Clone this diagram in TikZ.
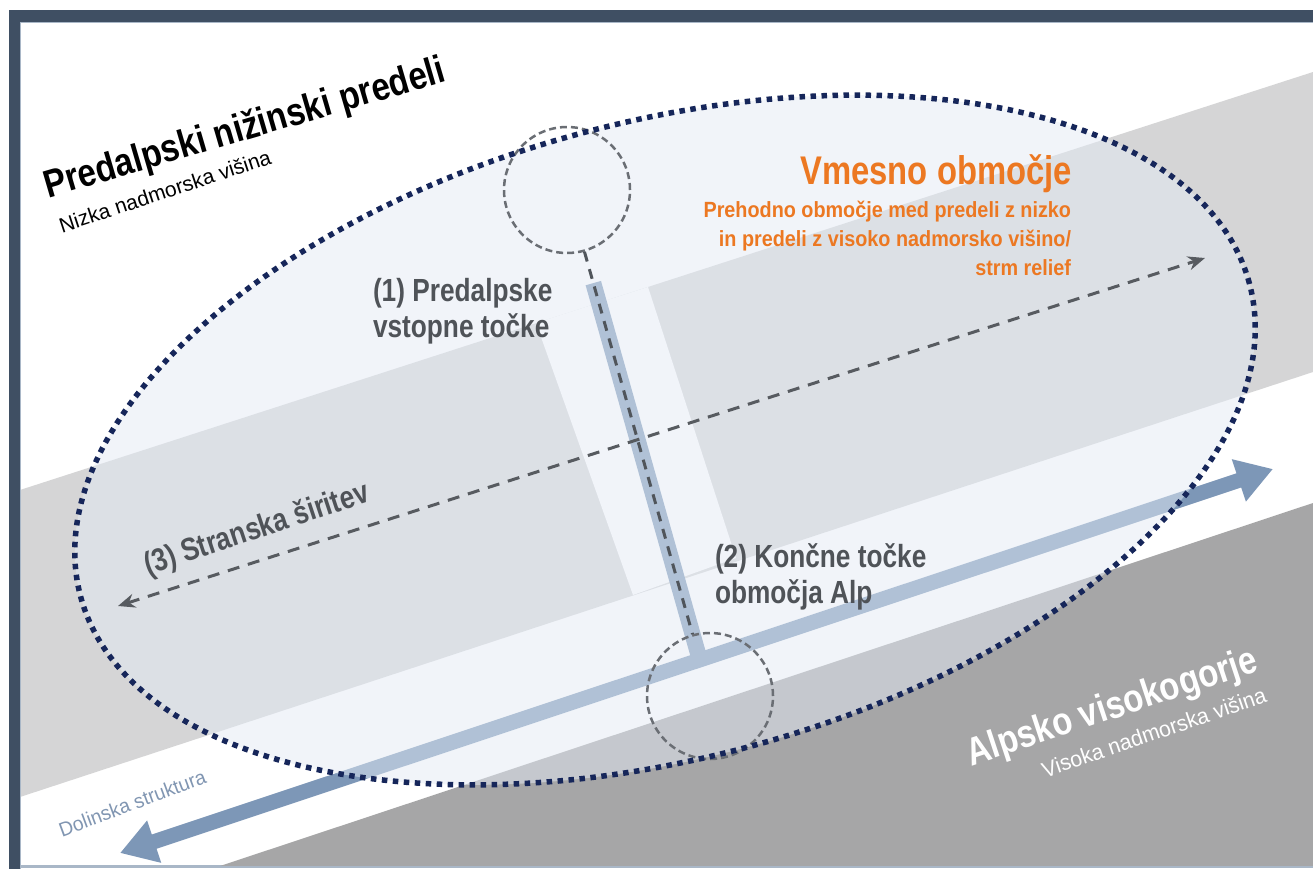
\documentclass[tikz,border=0pt]{standalone}
\usepackage{fontspec}
\setmainfont{Liberation Sans}
\newfontfamily\nar[FakeStretch=0.82]{Liberation Sans}
\newfontfamily\naro[FakeStretch=0.9]{Liberation Sans}
\newfontfamily\nart[FakeStretch=0.85]{Liberation Sans}
\newfontfamily\nara[FakeStretch=0.845]{Liberation Sans}
\newfontfamily\nars[FakeStretch=0.97]{Liberation Sans}
\usetikzlibrary{arrows.meta,calc}
\definecolor{framec}{HTML}{3F4F63}
\definecolor{framel}{HTML}{A9B7C7}
\definecolor{bandc}{HTML}{D5D5D6}
\definecolor{darkc}{HTML}{A6A6A7}
\definecolor{ovlc}{HTML}{E4EBF5}
\definecolor{valleyc}{HTML}{7D97B7}
\definecolor{dotc}{HTML}{16265A}
\definecolor{circc}{HTML}{6A6E74}
\definecolor{connc}{HTML}{50555B}
\definecolor{arrc}{HTML}{575B60}
\definecolor{txtc}{HTML}{4F5358}
\definecolor{orangec}{HTML}{EC7822}
\definecolor{dolc}{HTML}{8196B2}
\tikzset{
  lbl/.style={inner sep=0pt, outer sep=0pt},
  circ/.style={circle, minimum size=126pt, inner sep=0pt, draw=circc, line width=2.5pt, dash pattern=on 7pt off 4pt},
  conn/.style={draw=connc, line width=3pt, dash pattern=on 10pt off 8pt},
  barline/.style={draw=valleyc, line width=16pt},
  valley/.style={draw=valleyc, line width=15pt, {Triangle[width=42pt,length=36pt]}-{Triangle[width=42pt,length=36pt]}},
  spread/.style={draw=arrc, line width=3pt, dash pattern=on 12pt off 9pt, {Stealth[length=17pt,width=14pt]}-{Stealth[length=17pt,width=14pt]}},
  rim/.style={draw=dotc, line width=5.5pt, dash pattern=on 5.5pt off 5.5pt},
  ovl/.style={fill=ovlc, fill opacity=0.5},
  mid/.style={font=\nar\bfseries\fontsize{32}{36}\selectfont, text=txtc},
}
\begin{document}
\begin{tikzpicture}[x=1pt,y=-1pt]
\useasboundingbox (0,0) rectangle (1313,869);
\fill[white] (0,0) rectangle (1313,869);
% frame
\fill[framec] (9,10) rectangle (1313,22);
\fill[framec] (9,10) rectangle (20,869);
\draw[framel, line width=1.2pt] (20,22.6) -- (1313,22.6);
\draw[framel, line width=1.2pt] (20.6,22.6) -- (20.6,869);
\fill[framel] (20,865) rectangle (1313,868);
\begin{scope}
\clip (21.2,23.2) rectangle (1313,865);
% landscape bands
\fill[bandc] (20,490) -- (1313,72) -- (1313,372) -- (20,797) -- cycle;
\fill[white] (536,323) -- (648,287) -- (736,558) -- (633,595) -- cycle;
\fill[darkc] (211,869) -- (1313,503) -- (1313,869) -- cycle;
% circles (positions)
\node[circ, draw=none] (T) at (567,190) {};
\node[circ, draw=none] (B) at (710,696) {};
% valley structure and entry bar
\coordinate (vL) at (120,853);
\coordinate (vR) at (1273,469);
\draw[valley] (vL) -- (vR);
\draw[barline] ($(T.center)!0.184!(B.center)$) -- ($(T.center)!0.929!(B.center)$);
% transition zone overlay
\coordinate (E) at (665,440);
\fill[ovl, rotate around={15:(E)}] (E) ellipse [x radius=605pt, y radius=318pt];
% circles and connector
\node[circ] at (T) {};
\node[circ] at (B) {};
\draw[conn] (T) -- (B);
\draw[rim, rotate around={15:(E)}] (E) ellipse [x radius=605pt, y radius=318pt];
% lateral spread
\coordinate (sL) at (118,606);
\coordinate (sR) at (1205,258);
\draw[spread] (sL) -- (sR);
% texts
\node[lbl, anchor=base west, rotate=16.3, font=\nart\bfseries\fontsize{39}{40}\selectfont] (title) at (48,198) {Predalpski nižinski predeli};
\node[lbl, anchor=base west, rotate=18.3, font=\fontsize{21}{24}\selectfont] (titlesub) at (62,233) {Nizka nadmorska višina};
\node[lbl, anchor=base east, text=orangec, font=\nar\bfseries\fontsize{40}{40}\selectfont] (vm) at (1072,185) {Vmesno območje};
\node[lbl, anchor=base east, align=right, text=orangec, font=\naro\bfseries\fontsize{22}{29}\selectfont] (vmsub) at (1071,275) {Prehodno območje med predeli z nizko\\in predeli z visoko nadmorsko višino/\\strm relief};
\node[lbl, mid, anchor=base west, align=left] (p1) at (373,337) {(1) Predalpske\\vstopne točke};
\node[lbl, mid, anchor=base west, align=left] (p2) at (715,603) {(2) Končne točke\\območja Alp};
\node[lbl, mid, anchor=base west, rotate=18.3] (p3) at (148,575) {(3) Stranska širitev};
\node[lbl, text=white, anchor=base west, rotate=18.3, font=\nara\bfseries\fontsize{39}{40}\selectfont] (alp) at (971,766) {Alpsko visokogorje};
\node[lbl, text=white, anchor=base west, rotate=18.9, font=\nars\fontsize{22}{26}\selectfont] (alpsub) at (1045,778) {Visoka nadmorska višina};
\node[lbl, text=dolc, anchor=base west, rotate=20.4, font=\nars\fontsize{20}{24}\selectfont] (dol) at (62,837) {Dolinska struktura};
\end{scope}
\end{tikzpicture}
\end{document}
